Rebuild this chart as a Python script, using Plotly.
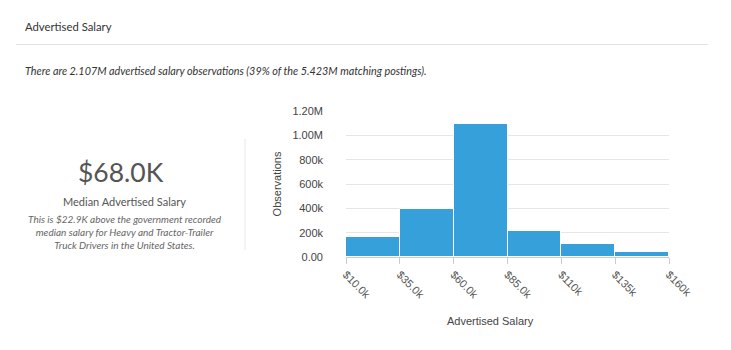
import plotly.graph_objects as go

bin_starts = [10000, 35000, 60000, 85000, 110000, 135000]
bin_width = 25000
observations = [167000, 394000, 1090000, 213000, 109000, 38000]
x_tick_vals = [10000, 35000, 60000, 85000, 110000, 135000, 160000]
x_tick_text = ["$10.0k", "$35.0k", "$60.0k", "$85.0k", "$110k", "$135k", "$160k"]
y_tick_vals = [0, 200000, 400000, 600000, 800000, 1000000, 1200000]
y_tick_text = ["0.00", "200k", "400k", "600k", "800k", "1.00M", "1.20M"]

centers = [s + bin_width / 2 for s in bin_starts]

fig = go.Figure()
fig.add_trace(go.Bar(
    x=centers, y=observations, width=[bin_width] * len(centers),
    marker=dict(color="#35a0da", line=dict(color="white", width=1)),
    hoverinfo="skip",
))

W, H = 731, 350
L, R, T, B = 346, 62, 111, 93
PW, PH = W - L - R, H - T - B

fig.update_layout(
    width=W, height=H,
    margin=dict(l=L, r=R, t=T, b=B),
    paper_bgcolor="white", plot_bgcolor="white",
    showlegend=False, bargap=0,
    font=dict(family="Liberation Sans, Arial, sans-serif", size=11, color="#333"),
    xaxis=dict(
        range=[10000, 160000], tickvals=x_tick_vals, ticktext=x_tick_text,
        tickangle=45, ticks="outside", ticklen=6, tickcolor="#cccccc",
        showgrid=False, showline=True, linecolor="#cccccc", linewidth=1,
        zeroline=False, tickfont=dict(size=11, color="#555"),
    ),
    yaxis=dict(
        range=[0, 1200000], tickvals=y_tick_vals, ticktext=y_tick_text,
        showgrid=True, gridcolor="#e6e6e6", gridwidth=1, zeroline=False,
        tickfont=dict(size=11, color="#444"), ticks="", ticklabelstandoff=22,
        title=dict(text="Observations", font=dict(size=11, color="#444"), standoff=8),
    ),
)

def px_x(p):
    return (p - L) / PW

def px_y(p):
    return (H - B - p) / PH

# Header
fig.add_annotation(text="Advertised Salary", xref="paper", yref="paper",
                   x=px_x(23), y=px_y(27), xanchor="left", yanchor="middle",
                   showarrow=False, font=dict(family="Lato", size=11.3, color="#333"))
fig.add_shape(type="line", xref="paper", yref="paper",
              x0=px_x(16), x1=px_x(708), y0=px_y(44.5), y1=px_y(44.5),
              line=dict(color="#e3e3e3", width=1))
fig.add_annotation(
    text="<i>There are 2.107M advertised salary observations (39% of the 5.423M matching postings).</i>",
    xref="paper", yref="paper", x=px_x(23), y=px_y(70), xanchor="left", yanchor="middle",
    showarrow=False, font=dict(family="Lato", size=10.8, color="#333"))

# Left summary block
fig.add_annotation(text="$68.0K", xref="paper", yref="paper",
                   x=px_x(121), y=px_y(172), xanchor="center", yanchor="middle",
                   showarrow=False, font=dict(family="Lato", size=26.5, color="#555"))
fig.add_annotation(text="Median Advertised Salary", xref="paper", yref="paper",
                   x=px_x(124.5), y=px_y(201.5), xanchor="center", yanchor="middle",
                   showarrow=False, font=dict(family="Lato", size=11, color="#555"))
fig.add_annotation(
    text="<i>This is $22.9K above the government recorded<br>median salary for Heavy and Tractor-Trailer<br>Truck Drivers in the United States.</i>",
    xref="paper", yref="paper", x=px_x(125), y=px_y(231.5), xanchor="center", yanchor="middle",
    align="center", showarrow=False,
    font=dict(family="Lato", size=10, color="#666"))
fig.add_shape(type="line", xref="paper", yref="paper",
              x0=px_x(245), x1=px_x(245), y0=px_y(139), y1=px_y(250),
              line=dict(color="#e8e8e8", width=1))

# X axis title
fig.add_annotation(text="Advertised Salary", xref="paper", yref="paper",
                   x=px_x(490), y=px_y(321), xanchor="center", yanchor="middle",
                   showarrow=False, font=dict(size=11, color="#444"))

fig.write_html("out.html")
